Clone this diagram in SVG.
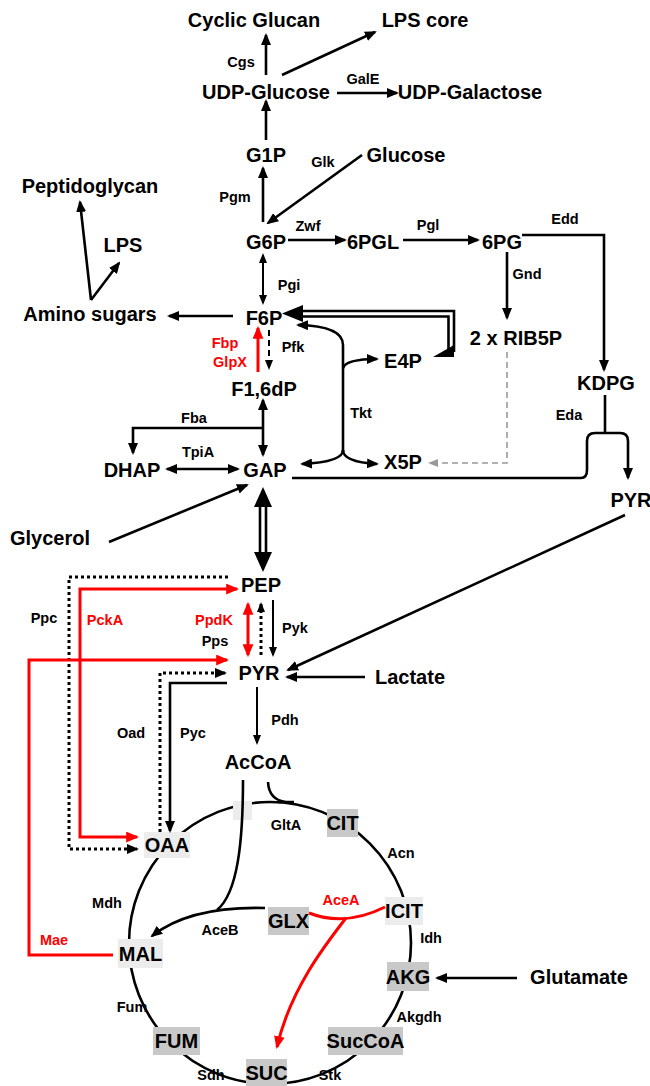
<svg xmlns="http://www.w3.org/2000/svg" width="650" height="1086" viewBox="0 0 650 1086">
<style>
text{font-family:"Liberation Sans",Arial,sans-serif;font-weight:bold;text-anchor:middle;fill:#000}
.m{font-size:20px}
.e{font-size:14.5px}
.rt{fill:#f00}
.ln{fill:none;stroke:#000;stroke-width:2.6}
.th{stroke-width:2}
.red{stroke:#f00;stroke-width:3}
.dot{stroke-dasharray:3 3;stroke-width:3}
.dash{stroke-dasharray:6 4;stroke-width:2}
.gry{stroke:#999;stroke-width:1.6;stroke-dasharray:6 4}
.b1{fill:#c8c8c8}
.b2{fill:#ececec}
.ah{fill:#000}
</style>
<defs>
<marker id="a" viewBox="0 0 12 10" refX="10" refY="5" markerWidth="12" markerHeight="10" markerUnits="userSpaceOnUse" orient="auto-start-reverse"><path d="M0,0 L12,5 L0,10 z" fill="#000"/></marker>
<marker id="as" viewBox="0 0 10 8" refX="8" refY="4" markerWidth="10" markerHeight="8" markerUnits="userSpaceOnUse" orient="auto-start-reverse"><path d="M0,0 L10,4 L0,8 z" fill="#000"/></marker>
<marker id="ar" viewBox="0 0 12 10" refX="10" refY="5" markerWidth="13" markerHeight="11" markerUnits="userSpaceOnUse" orient="auto-start-reverse"><path d="M0,0 L12,5 L0,10 z" fill="#f00"/></marker>
<marker id="ag" viewBox="0 0 10 8" refX="8" refY="4" markerWidth="10" markerHeight="8" markerUnits="userSpaceOnUse" orient="auto"><path d="M0,0 L10,4 L0,8 z" fill="#999"/></marker>
</defs>

<g id="tca-cycle">
<circle cx="270" cy="943" r="141" class="ln" stroke-width="3"/>
</g>

<g id="n-cyclicglucan"><text class="m" x="254" y="27">Cyclic Glucan</text></g>
<g id="n-lpscore"><text class="m" x="425" y="27">LPS core</text></g>
<g id="n-udpglucose"><text class="m" x="266" y="99">UDP-Glucose</text></g>
<g id="n-udpgalactose"><text class="m" x="470" y="99">UDP-Galactose</text></g>
<g id="n-g1p"><text class="m" x="266" y="162">G1P</text></g>
<g id="n-glucose"><text class="m" x="406" y="162">Glucose</text></g>
<g id="n-peptidoglycan"><text class="m" x="90" y="193">Peptidoglycan</text></g>
<g id="n-lps"><text class="m" x="123" y="252">LPS</text></g>
<g id="n-g6p"><text class="m" x="266" y="249">G6P</text></g>
<g id="n-6pgl"><text class="m" x="373" y="249">6PGL</text></g>
<g id="n-6pg"><text class="m" x="502" y="249">6PG</text></g>
<g id="n-aminosugars"><text class="m" x="90" y="321">Amino sugars</text></g>
<g id="n-f6p"><text class="m" x="264" y="325">F6P</text></g>
<g id="n-rib5p"><text class="m" x="516" y="345">2 x RIB5P</text></g>
<g id="n-e4p"><text class="m" x="403" y="368">E4P</text></g>
<g id="n-kdpg"><text class="m" x="606" y="390">KDPG</text></g>
<g id="n-f16dp"><text class="m" x="264" y="396">F1,6dP</text></g>
<g id="n-dhap"><text class="m" x="132" y="477">DHAP</text></g>
<g id="n-gap"><text class="m" x="265" y="477">GAP</text></g>
<g id="n-x5p"><text class="m" x="403" y="469">X5P</text></g>
<g id="n-pyr2"><text class="m" x="631" y="507">PYR</text></g>
<g id="n-glycerol"><text class="m" x="50" y="545">Glycerol</text></g>
<g id="n-pep"><text class="m" x="261" y="592">PEP</text></g>
<g id="n-pyr"><text class="m" x="259" y="680">PYR</text></g>
<g id="n-lactate"><text class="m" x="410" y="684">Lactate</text></g>
<g id="n-accoa"><text class="m" x="258" y="769">AcCoA</text></g>
<g id="n-blank"><rect class="b2" x="233" y="801" width="19" height="19"/></g>
<g id="n-oaa"><rect class="b2" x="144" y="832" width="46" height="26"/><text class="m" x="167" y="852">OAA</text></g>
<g id="n-cit"><rect class="b1" x="327" y="809" width="31" height="28"/><text class="m" x="342.5" y="830">CIT</text></g>
<g id="n-glx"><rect class="b1" x="268" y="907" width="41" height="28"/><text class="m" x="288.5" y="928">GLX</text></g>
<g id="n-icit"><rect class="b2" x="385" y="897" width="38" height="28"/><text class="m" x="404" y="918">ICIT</text></g>
<g id="n-mal"><rect class="b2" x="118" y="939" width="45" height="29"/><text class="m" x="140.5" y="961">MAL</text></g>
<g id="n-akg"><rect class="b1" x="387" y="962" width="42" height="29"/><text class="m" x="408" y="984">AKG</text></g>
<g id="n-fum"><rect class="b1" x="153" y="1027" width="47" height="28"/><text class="m" x="176.5" y="1048">FUM</text></g>
<g id="n-succoa"><rect class="b1" x="328" y="1027" width="75" height="28"/><text class="m" x="365.5" y="1048">SucCoA</text></g>
<g id="n-suc"><rect class="b1" x="246" y="1059" width="41" height="27"/><text class="m" x="266.5" y="1080">SUC</text></g>
<g id="n-glutamate"><text class="m" x="579" y="984">Glutamate</text></g>

<g id="connectors">
<path class="ln" d="M266,75 V35" marker-end="url(#a)"/>
<path class="ln" d="M282,75 L375,32" marker-end="url(#a)"/>
<path class="ln" d="M337,93 H397" marker-end="url(#a)"/>
<path class="ln" d="M266,140 V101" marker-end="url(#a)"/>
<path class="ln" d="M263,222 V168" marker-end="url(#a)"/>
<path class="ln" d="M362,155 L268,223" marker-end="url(#a)"/>
<path class="ln" d="M288,240 H345" marker-end="url(#a)"/>
<path class="ln" d="M403,240 H478" marker-end="url(#a)"/>
<path class="ln" d="M522,235 H604 V370" marker-end="url(#a)"/>
<path class="ln" d="M507,252 V318" marker-end="url(#a)"/>
<path class="ln th" d="M263,255 V303" marker-start="url(#as)" marker-end="url(#as)"/>
<path class="ln" d="M233,316 H169" marker-end="url(#a)"/>
<path class="ln" d="M91,300 L80,202" marker-end="url(#a)"/>
<path class="ln" d="M91,300 L119,263" marker-end="url(#a)"/>
<path class="ln red" d="M258,372 V328" marker-end="url(#ar)"/>
<path class="ln dash" d="M269,330 V368" marker-end="url(#as)"/>
<path class="ln" d="M300,311 H454 V352"/>
<path class="ln" d="M300,316.5 H448.5 V350"/>
<polygon class="ah" points="282,313.5 303,305 303,322"/>
<polygon class="ah" points="433,357 454,345 454,357"/>
<path class="ln" d="M343,452 V345 Q343,326 298,325" marker-end="url(#a)"/>
<path class="ln" d="M343,368 Q346,359 377,359" marker-end="url(#a)"/>
<path class="ln" d="M343,450 Q343,462 302,464" marker-end="url(#a)"/>
<path class="ln" d="M343,450 Q343,462 377,464" marker-end="url(#a)"/>
<path class="gry" d="M507,352 V463 H430" fill="none" marker-end="url(#ag)"/>
<path class="ln" d="M605,395 V433"/>
<path class="ln" d="M292,478 H581 Q587,478 587,470 V441 Q587,433 595,433 H620 Q628,433 628,441 V478" marker-end="url(#a)"/>
<path class="ln" d="M263,400 V455" marker-start="url(#a)" marker-end="url(#a)"/>
<path class="ln" d="M263,428 H133 V453" marker-end="url(#a)"/>
<path class="ln" d="M167,469 H238" marker-start="url(#a)" marker-end="url(#a)"/>
<path class="ln" d="M109,542 L247,485" marker-end="url(#a)"/>
<path class="ln" d="M260,505 V554 M266,505 V554" stroke-width="2.2"/>
<polygon class="ah" points="263,487 254,507 272,507"/>
<polygon class="ah" points="263,572 254,552 272,552"/>
<path class="ln red" d="M248,604 V655" marker-start="url(#ar)" marker-end="url(#ar)"/>
<path class="ln dot" d="M261,655 V604" marker-end="url(#as)"/>
<path class="ln th" d="M273,600 V655" marker-end="url(#as)"/>
<path class="ln th" d="M257,687 V743" marker-end="url(#as)"/>
<path class="ln" d="M365,677 H287" marker-end="url(#a)"/>
<path class="ln" d="M625,515 L288,670" marker-end="url(#a)"/>
<path class="ln dot" d="M228,577 H69 V849 H137" marker-end="url(#a)"/>
<path class="ln red" d="M237,589 H80 V837 H137" marker-start="url(#ar)" marker-end="url(#ar)"/>
<path class="ln red" d="M113,955 H29 V660 H227" marker-end="url(#ar)"/>
<path class="ln dot" d="M160,832 V673 H225" marker-end="url(#a)"/>
<path class="ln" d="M227,683 H170 V831" marker-end="url(#a)"/>
<path class="ln" d="M243,780 C243,840 238,893 217,910"/>
<path class="ln" d="M265,908 Q190,906 152,936" marker-end="url(#a)"/>
<path class="ln" d="M268,782 Q269,800 286,802 M278,802 H294"/>
<path class="ln red" d="M385,907 Q345,927 309,913"/>
<path class="ln red" d="M346,918 C325,945 290,990 277,1047" marker-end="url(#ar)"/>
<path class="ln" d="M517,978 H437" marker-end="url(#a)"/>
</g>

<g id="labels">
<text class="e" x="241" y="67">Cgs</text>
<text class="e" x="363" y="84">GalE</text>
<text class="e" x="323" y="167">Glk</text>
<text class="e" x="235" y="202">Pgm</text>
<text class="e" x="308" y="231">Zwf</text>
<text class="e" x="428" y="230">Pgl</text>
<text class="e" x="565" y="224">Edd</text>
<text class="e" x="527" y="279">Gnd</text>
<text class="e" x="289" y="290">Pgi</text>
<text class="e rt" x="225" y="348">Fbp</text>
<text class="e rt" x="230" y="367">GlpX</text>
<text class="e" x="293" y="352">Pfk</text>
<text class="e" x="361" y="418">Tkt</text>
<text class="e" x="569" y="420">Eda</text>
<text class="e" x="194" y="423">Fba</text>
<text class="e" x="198" y="457">TpiA</text>
<text class="e" x="44" y="623">Ppc</text>
<text class="e rt" x="105" y="625">PckA</text>
<text class="e rt" x="214" y="625">PpdK</text>
<text class="e" x="215" y="646">Pps</text>
<text class="e" x="295" y="633">Pyk</text>
<text class="e" x="285" y="725">Pdh</text>
<text class="e" x="131" y="738">Oad</text>
<text class="e" x="193" y="738">Pyc</text>
<text class="e" x="286" y="830">GltA</text>
<text class="e" x="401" y="858">Acn</text>
<text class="e rt" x="341" y="905">AceA</text>
<text class="e" x="107" y="908">Mdh</text>
<text class="e" x="220" y="935">AceB</text>
<text class="e" x="431" y="943">Idh</text>
<text class="e rt" x="54" y="945">Mae</text>
<text class="e" x="132" y="1012">Fum</text>
<text class="e" x="419" y="1022">Akgdh</text>
<text class="e" x="211" y="1080">Sdh</text>
<text class="e" x="330" y="1080">Stk</text>
</g>
</svg>
